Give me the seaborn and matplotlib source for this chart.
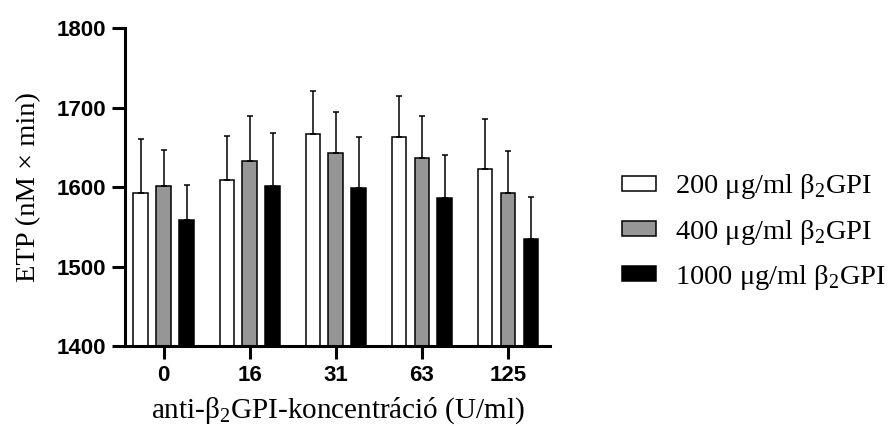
import matplotlib
matplotlib.use("Agg")
import matplotlib.pyplot as plt
import seaborn as sns
import pandas as pd
import numpy as np

categories = ["0", "16", "31", "63", "125"]
groups = ["200 μg/ml β$_{\\mathregular{2}}$GPI", "400 μg/ml β$_{\\mathregular{2}}$GPI", "1000 μg/ml β$_{\\mathregular{2}}$GPI"]
means_200 = [1592, 1609, 1667, 1663, 1623]
means_400 = [1601, 1633, 1643, 1637, 1592]
means_1000 = [1559, 1601, 1599, 1586, 1535]
err_200 = [69, 56, 54, 52, 63]
err_400 = [46, 57, 51, 53, 53]
err_1000 = [44, 67, 64, 55, 52]

sns.set_style("ticks")
plt.rcParams["font.family"] = ["Liberation Serif", "DejaVu Serif"]
plt.rcParams["mathtext.fontset"] = "custom"
plt.rcParams["mathtext.rm"] = "Liberation Serif"
plt.rcParams["text.color"] = "black"
plt.rcParams["axes.labelcolor"] = "black"

rows = []
for g, vals in zip(groups, [means_200, means_400, means_1000]):
    for c, v in zip(categories, vals):
        rows.append({"conc": c, "etp": v, "group": g})
df = pd.DataFrame(rows)

fig = plt.figure(figsize=(8.95, 4.26), dpi=100)
ax = fig.add_axes([0.1397, 0.1878, 0.4749, 0.7458])

sns.barplot(data=df, x="conc", y="etp", hue="group", order=categories, hue_order=groups,
            palette=["white", "#969696", "black"], edgecolor="black", linewidth=1.1,
            errorbar=None, gap=0.36, ax=ax)

for cont, errs in zip(ax.containers, [err_200, err_400, err_1000]):
    xs = [b.get_x() + b.get_width() / 2 for b in cont]
    hs = [b.get_height() for b in cont]
    ax.errorbar(xs, hs, yerr=[np.zeros(len(errs)), errs], fmt="none", ecolor="black",
                elinewidth=1.1, capsize=2.2, capthick=1.1, zorder=1)

ax.set_ylim(1400, 1800)
ax.set_yticks([1400, 1500, 1600, 1700, 1800])
ax.set_xlim(-0.45, 4.49)
sns.despine(ax=ax)
for s in ["left", "bottom"]:
    ax.spines[s].set_linewidth(2.2)
    ax.spines[s].set_color("black")
ax.tick_params(axis="both", length=9.5, width=2.2, pad=4, color="black", labelcolor="black")
for lab in ax.get_xticklabels() + ax.get_yticklabels():
    lab.set_fontfamily(["Liberation Sans", "DejaVu Sans"])
    lab.set_fontweight("bold")
    lab.set_fontsize(16)

ax.set_xlabel("anti-β$_{\\mathregular{2}}$GPI-koncentráció (U/ml)", fontsize=21, labelpad=7)
ax.set_ylabel("ETP (nM × min)", fontsize=20.5, labelpad=11)

ax.get_legend().remove()
handles = [plt.Rectangle((0, 0), 1, 1, facecolor=c, edgecolor="black", linewidth=1.1)
           for c in ["white", "#969696", "black"]]
fig.legend(handles, groups, loc="center left", bbox_to_anchor=(0.695, 0.455), frameon=False,
           fontsize=20.5, handlelength=1.2, handleheight=0.45, handletextpad=0.67,
           labelspacing=0.57, borderpad=0, borderaxespad=0)

fig.savefig("out.png", dpi=100)
